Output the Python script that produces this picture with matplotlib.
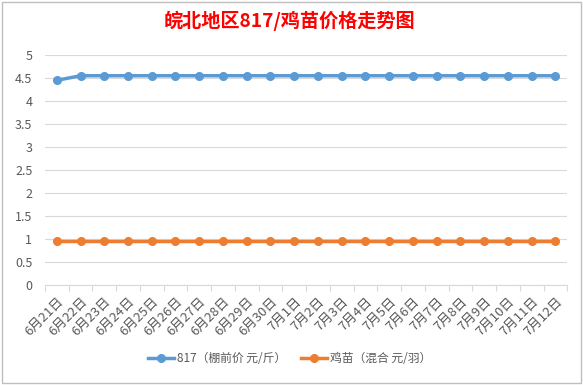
import matplotlib.pyplot as plt
from matplotlib.patches import Rectangle

plt.rcParams['font.family'] = ['Noto Sans CJK SC', 'DejaVu Sans']

# dates 6月21日 .. 7月12日
dates = ['6月%d日' % d for d in range(21, 31)] + ['7月%d日' % d for d in range(1, 13)]
price_817 = [4.45] + [4.55] * 21
price_chick = [0.95] * 22

fig = plt.figure(figsize=(5.83, 3.85), dpi=100)
ax = fig.add_axes([0.077, 0.26, 0.896, 0.597])

x = range(len(dates))
ax.plot(x, price_817, color='#5b9bd5', lw=2.5, marker='o', ms=5.5, label='817（棚前价 元/斤）')
ax.plot(x, price_chick, color='#ed7d31', lw=2.5, marker='o', ms=5.5, label='鸡苗（混合 元/羽）')

ax.set_xlim(-0.5, len(dates) - 0.5)
ax.set_ylim(0, 5)
ax.set_yticks([0, 0.5, 1, 1.5, 2, 2.5, 3, 3.5, 4, 4.5, 5])
ax.set_yticklabels(['0', '0.5', '1', '1.5', '2', '2.5', '3', '3.5', '4', '4.5', '5'])
ax.yaxis.grid(True, color='#d9d9d9', lw=0.8)
ax.set_axisbelow(True)

ax.set_xticks([i - 0.5 for i in range(len(dates) + 1)], minor=False)
ax.set_xticklabels([])
ax.set_xticks(list(x), minor=True)
ax.set_xticklabels(dates, minor=True, rotation=45, ha='right', rotation_mode='anchor')
ax.tick_params(axis='x', which='major', length=4, color='#d9d9d9')
ax.tick_params(axis='x', which='minor', length=0, pad=7, labelsize=9.5, labelcolor='#595959')
ax.tick_params(axis='y', length=0, labelsize=9, labelcolor='#595959', pad=9)

for s in ['top', 'right', 'left']:
    ax.spines[s].set_visible(False)
ax.spines['bottom'].set_color('#d9d9d9')

fig.text(0.497, 0.945, '皖北地区817/鸡苗价格走势图', ha='center', va='center',
         color='#ff0000', fontsize=13.8, fontweight='bold')

fig.legend(loc='center', bbox_to_anchor=(0.497, 0.068), ncol=2, frameon=False,
           fontsize=8.5, handlelength=2.2, handletextpad=0.3, columnspacing=1.2,
           labelcolor='#595959')

fig.patches.append(Rectangle((0.004, 0.004), 0.992, 0.99, transform=fig.transFigure,
                             fill=False, edgecolor='#bfbfbf', lw=1))

fig.savefig('out.png', dpi=100)
